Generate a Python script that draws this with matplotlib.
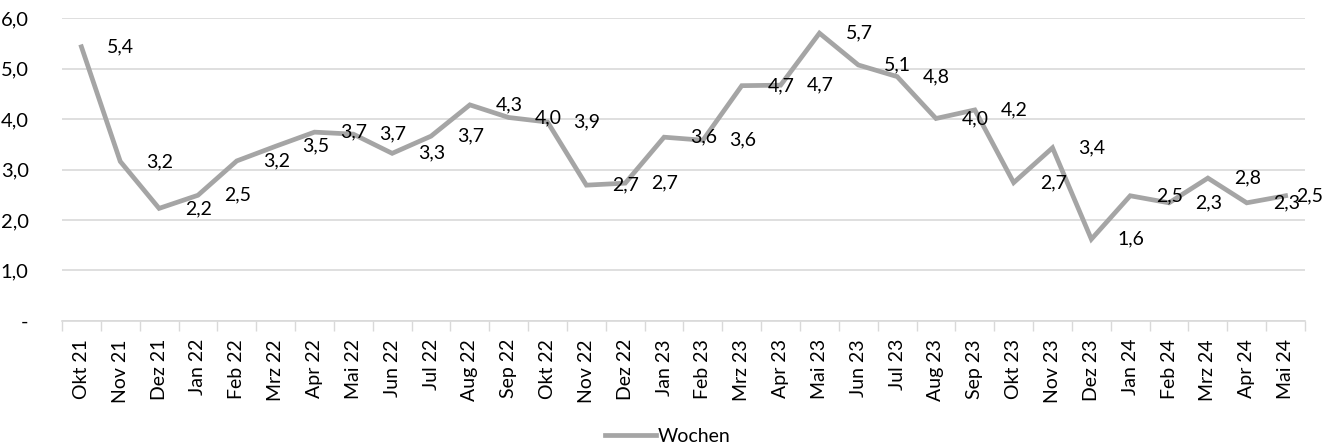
import matplotlib
matplotlib.use("Agg")
import matplotlib.pyplot as plt
from matplotlib.ticker import FixedLocator, FuncFormatter

plt.rcParams["font.family"] = ["Lato", "DejaVu Sans"]

months = [
    "Okt 21", "Nov 21", "Dez 21", "Jan 22", "Feb 22", "Mrz 22", "Apr 22", "Mai 22",
    "Jun 22", "Jul 22", "Aug 22", "Sep 22", "Okt 22", "Nov 22", "Dez 22", "Jan 23",
    "Feb 23", "Mrz 23", "Apr 23", "Mai 23", "Jun 23", "Jul 23", "Aug 23", "Sep 23",
    "Okt 23", "Nov 23", "Dez 23", "Jan 24", "Feb 24", "Mrz 24", "Apr 24", "Mai 24",
]
wochen = [
    5.43, 3.16, 2.23, 2.49, 3.17, 3.46, 3.74, 3.70,
    3.32, 3.66, 4.28, 4.03, 3.94, 2.69, 2.73, 3.64,
    3.58, 4.66, 4.67, 5.70, 5.07, 4.84, 4.01, 4.18,
    2.74, 3.43, 1.62, 2.48, 2.34, 2.83, 2.34, 2.48,
]
series_name = "Wochen"

LINE_COLOR = "#a5a5a5"
GRID_COLOR = "#d9d9d9"
TEXT_COLOR = "#000000"


def fmt_de(v, pos=None):
    if v == 0:
        return "-"
    return f"{v:.1f}".replace(".", ",")


fig = plt.figure(figsize=(13.36, 4.47), dpi=100)
ax = fig.add_axes([0.0464, 0.2819, 0.9304, 0.6778])

x = list(range(len(months)))
ax.plot(x, wochen, color=LINE_COLOR, lw=3.4, solid_joinstyle="miter", label=series_name, zorder=3)

# data labels to the right of each point
for i, v in enumerate(wochen):
    dx = 26 if i < len(wochen) - 1 else 11
    ax.annotate(fmt_de(v), (i, v), xytext=(dx, 0), textcoords="offset pixels",
                ha="left", va="center", fontsize=14, color=TEXT_COLOR, zorder=4)

ax.set_xlim(-0.5, len(months) - 0.5)
ax.set_ylim(0, 6)
ax.set_yticks([0, 1, 2, 3, 4, 5, 6])
ax.yaxis.set_major_formatter(FuncFormatter(fmt_de))
ax.tick_params(axis="y", length=0, pad=24, labelsize=14.5, labelcolor=TEXT_COLOR)

ax.set_xticks(x)
ax.set_xticklabels(months, rotation=90, fontsize=14, color=TEXT_COLOR)
ax.tick_params(axis="x", which="major", length=0, pad=13)
ax.xaxis.set_minor_locator(FixedLocator([k - 0.5 for k in range(len(months) + 1)]))
ax.tick_params(axis="x", which="minor", length=7, width=1, color=GRID_COLOR)

ax.grid(axis="y", color=GRID_COLOR, lw=1.2, zorder=0)
ax.set_axisbelow(True)
for side in ["top", "right", "left"]:
    ax.spines[side].set_visible(False)
ax.spines["bottom"].set_color(GRID_COLOR)
ax.spines["bottom"].set_linewidth(1.2)

fig.legend(loc="lower center", bbox_to_anchor=(0.5, -0.035), frameon=False,
           fontsize=14, handlelength=2.6, handletextpad=0.1)

fig.savefig("out.png", dpi=100)
